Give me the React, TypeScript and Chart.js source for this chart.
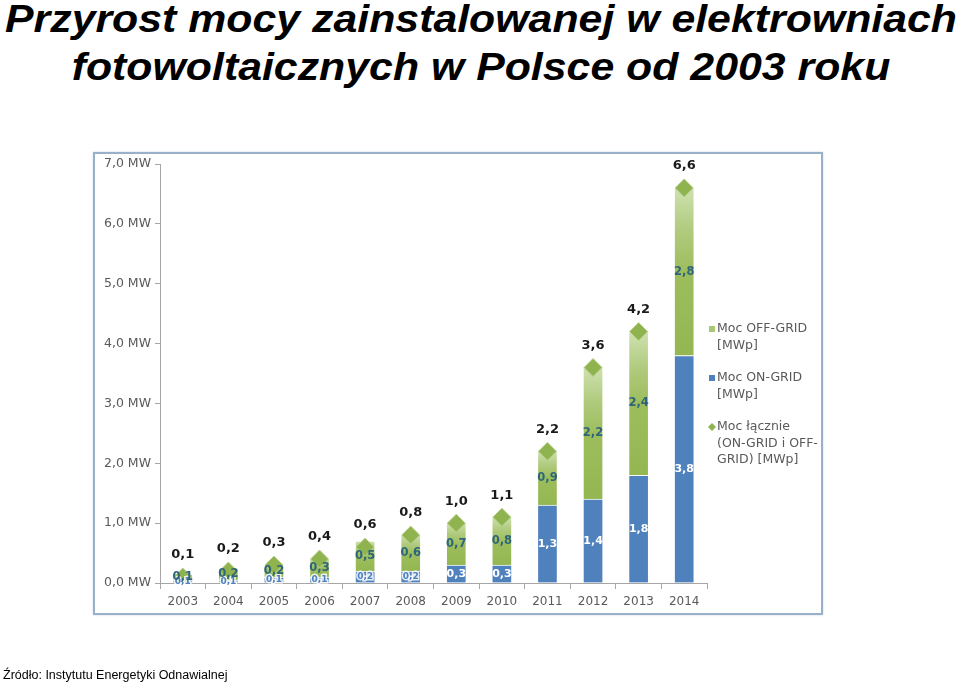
import React, { useEffect, useRef, useState } from "react";
import { Chart, registerables } from "chart.js";

Chart.register(...registerables);

const titleLines = [
  "Przyrost mocy zainstalowanej w elektrowniach",
  "fotowoltaicznych w Polsce od 2003 roku",
];
const sourceText = "Źródło: Instytutu Energetyki Odnawialnej";

const years = ["2003", "2004", "2005", "2006", "2007", "2008", "2009", "2010", "2011", "2012", "2013", "2014"];
const onGrid = [0.05, 0.05, 0.1, 0.1, 0.2, 0.2, 0.3, 0.3, 1.3, 1.4, 1.8, 3.8];
const offGrid = [0.1, 0.2, 0.2, 0.3, 0.5, 0.6, 0.7, 0.8, 0.9, 2.2, 2.4, 2.8];
const totals = [0.1, 0.2, 0.3, 0.4, 0.6, 0.8, 1.0, 1.1, 2.2, 3.6, 4.2, 6.6];

const yMin = 0;
const yMax = 7;
const yStep = 1;

const legendOff = ["Moc OFF-GRID", "[MWp]"];
const legendOn = ["Moc ON-GRID", "[MWp]"];
const legendTotal = ["Moc łącznie", "(ON-GRID i OFF-", "GRID) [MWp]"];

const BLUE = "#4f81bd";
const GREEN = "#9bbb59";
const DIAMOND = "#8fb44f";
const AXIS = "#a6a6a6";
const TEXT = "#595959";
const FONT = "'DejaVu Sans', sans-serif";

const fmt = (v: number) => v.toFixed(1).replace(".", ",");

const labelsPlugin = {
  id: "customLabels",
  afterDatasetsDraw(chart: any) {
    const ctx = chart.ctx as CanvasRenderingContext2D;
    const onMeta = chart.getDatasetMeta(0);
    const offMeta = chart.getDatasetMeta(1);
    const totMeta = chart.getDatasetMeta(2);
    ctx.save();
    ctx.textAlign = "center";
    ctx.textBaseline = "middle";

    // ON-GRID labels
    onMeta.data.forEach((el: any, i: number) => {
      const cy = (el.y + el.base) / 2;
      if (onGrid[i] >= 0.3) {
        ctx.font = `bold 11px ${FONT}`;
        ctx.fillStyle = "#ffffff";
        ctx.fillText(fmt(onGrid[i]), el.x, cy);
      } else {
        ctx.font = `bold 9px ${FONT}`;
        ctx.lineWidth = 3;
        ctx.strokeStyle = "rgba(255,255,255,0.85)";
        ctx.strokeText(fmt(onGrid[i]), el.x, cy);
        ctx.fillStyle = BLUE;
        ctx.fillText(fmt(onGrid[i]), el.x, cy);
      }
    });

    // OFF-GRID labels
    ctx.font = `bold 11.5px ${FONT}`;
    offMeta.data.forEach((el: any, i: number) => {
      const cy = (el.y + el.base) / 2;
      ctx.fillStyle = "#2e6579";
      ctx.fillText(fmt(offGrid[i]), el.x, cy);
    });

    // totals
    ctx.font = `bold 13px ${FONT}`;
    ctx.fillStyle = "#1a1a1a";
    totMeta.data.forEach((pt: any, i: number) => {
      ctx.fillText(fmt(totals[i]), pt.x, pt.y - 22);
    });
    ctx.restore();
  },
  afterDraw(chart: any) {
    const ctx = chart.ctx as CanvasRenderingContext2D;
    const x0 = chart.chartArea.right + 5;
    const tx = x0 + 5;
    ctx.save();
    ctx.font = `12.5px ${FONT}`;
    ctx.fillStyle = TEXT;
    ctx.textAlign = "left";
    ctx.textBaseline = "middle";
    const lh = 16.5;
    const items = [
      { lines: legendOff, y: 329, kind: "sq", color: "#a9c872" },
      { lines: legendOn, y: 378, kind: "sq", color: BLUE },
      { lines: legendTotal, y: 427, kind: "dia", color: DIAMOND },
    ];
    items.forEach((it) => {
      ctx.fillStyle = it.color;
      if (it.kind === "sq") {
        ctx.fillRect(x0 - 3, it.y - 3, 6, 6);
      } else {
        ctx.beginPath();
        ctx.moveTo(x0, it.y - 4);
        ctx.lineTo(x0 + 4, it.y);
        ctx.lineTo(x0, it.y + 4);
        ctx.lineTo(x0 - 4, it.y);
        ctx.closePath();
        ctx.fill();
      }
      ctx.fillStyle = TEXT;
      it.lines.forEach((t, k) => ctx.fillText(t, tx, it.y + k * lh));
    });
    ctx.restore();
  },
};

function greenFill(c: any) {
  const chart = c.chart;
  const { ctx, chartArea, scales } = chart;
  if (!chartArea || c.dataIndex === undefined || !scales || !scales.y) return GREEN;
  const i = c.dataIndex;
  const top = scales.y.getPixelForValue(onGrid[i] + offGrid[i]);
  const bot = scales.y.getPixelForValue(onGrid[i]);
  if (!isFinite(top) || !isFinite(bot) || bot - top < 1) return GREEN;
  const g = ctx.createLinearGradient(0, top, 0, bot);
  g.addColorStop(0, "#cfe1b0");
  g.addColorStop(0.25, "#b0cb7e");
  g.addColorStop(0.5, "#9dbd5c");
  g.addColorStop(1, "#94b752");
  return g;
}

export default function App() {
  const canvasRef = useRef<HTMLCanvasElement | null>(null);
  const [scale, setScale] = useState(0.9);

  useEffect(() => {
    document.body.style.margin = "0";
    const m = document.createElement("canvas").getContext("2d");
    if (m) {
      m.font = "italic bold 39px 'Liberation Sans', Arial, sans-serif";
      const w = m.measureText(titleLines[0]).width;
      if (w > 0) setScale(952 / w);
    }
    const canvas = canvasRef.current;
    if (!canvas) return;
    const chart = new Chart(canvas, {
      type: "bar",
      data: {
        labels: years,
        datasets: [
          {
            type: "bar",
            label: "Moc ON-GRID [MWp]",
            data: onGrid,
            backgroundColor: BLUE,
            borderColor: "rgba(255,255,255,0.75)",
            borderWidth: 1,
            barThickness: 20,
            stack: "bars",
            order: 1,
          },
          {
            type: "bar",
            label: "Moc OFF-GRID [MWp]",
            data: offGrid,
            backgroundColor: greenFill as any,
            borderColor: "rgba(255,255,255,0.6)",
            borderWidth: 1,
            barThickness: 20,
            stack: "bars",
            order: 1,
          },
          {
            type: "line",
            label: "Moc łącznie (ON-GRID i OFF-GRID) [MWp]",
            data: totals,
            showLine: false,
            pointStyle: "rectRot",
            pointRadius: 9,
            pointBackgroundColor: DIAMOND,
            pointBorderColor: "#b5d088",
            pointBorderWidth: 1,
            stack: "line",
            order: 0,
          } as any,
        ],
      },
      options: {
        responsive: false,
        animation: false,
        devicePixelRatio: 1,
        layout: { padding: { left: 0, right: 253, top: 164, bottom: 72 } },
        plugins: {
          legend: { display: false },
          tooltip: { enabled: false },
          title: { display: false },
        },
        scales: {
          x: {
            stacked: true,
            grid: {
              display: true,
              drawOnChartArea: false,
              tickLength: 6,
              color: AXIS,
              offset: true,
            },
            border: { display: true, color: AXIS, width: 1 },
            ticks: {
              color: TEXT,
              font: { family: "DejaVu Sans", size: 12 },
              padding: 6,
              maxRotation: 0,
            },
            afterFit: (s: any) => {
              s.height = 30;
            },
          },
          y: {
            stacked: true,
            min: yMin,
            max: yMax,
            grid: {
              display: true,
              drawOnChartArea: false,
              tickLength: 5,
              color: AXIS,
            },
            border: { display: true, color: AXIS, width: 1 },
            ticks: {
              stepSize: yStep,
              color: TEXT,
              font: { family: "DejaVu Sans", size: 12.5 },
              padding: 4,
              callback: (v: any) => fmt(Number(v)) + " MW",
            },
            afterFit: (s: any) => {
              s.width = 160;
            },
          },
        },
      },
      plugins: [labelsPlugin],
    });
    return () => chart.destroy();
  }, []);

  const titleLine: React.CSSProperties = {
    display: "block",
    whiteSpace: "nowrap",
    transform: `scaleX(${scale})`,
    transformOrigin: "center",
  };

  return (
    <div style={{ position: "relative", width: 960, height: 685, overflow: "hidden", background: "#fff" }}>
      <div
        style={{
          position: "absolute",
          left: 0,
          top: -5,
          width: 962,
          textAlign: "center",
          fontFamily: "'Liberation Sans', Arial, sans-serif",
          fontStyle: "italic",
          fontWeight: "bold",
          fontSize: 39,
          lineHeight: "48px",
          color: "#000",
        }}
      >
        {titleLines.map((t) => (
          <span key={t} style={titleLine}>
            {t}
          </span>
        ))}
      </div>
      <div
        style={{
          position: "absolute",
          left: 93,
          top: 152,
          width: 730,
          height: 463,
          boxSizing: "border-box",
          border: "2px solid #98b0ca",
          boxShadow: "0 0 2px #c9d6e4",
          background: "#fff",
        }}
      />
      <canvas
        ref={canvasRef}
        width={960}
        height={685}
        style={{ position: "absolute", left: 0, top: 0, width: 960, height: 685 }}
      />
      <div
        style={{
          position: "absolute",
          left: 3,
          top: 668,
          fontFamily: "'Liberation Sans', Arial, sans-serif",
          fontSize: 12.5,
          lineHeight: "15px",
          color: "#000",
          whiteSpace: "nowrap",
        }}
      >
        {sourceText}
      </div>
    </div>
  );
}
